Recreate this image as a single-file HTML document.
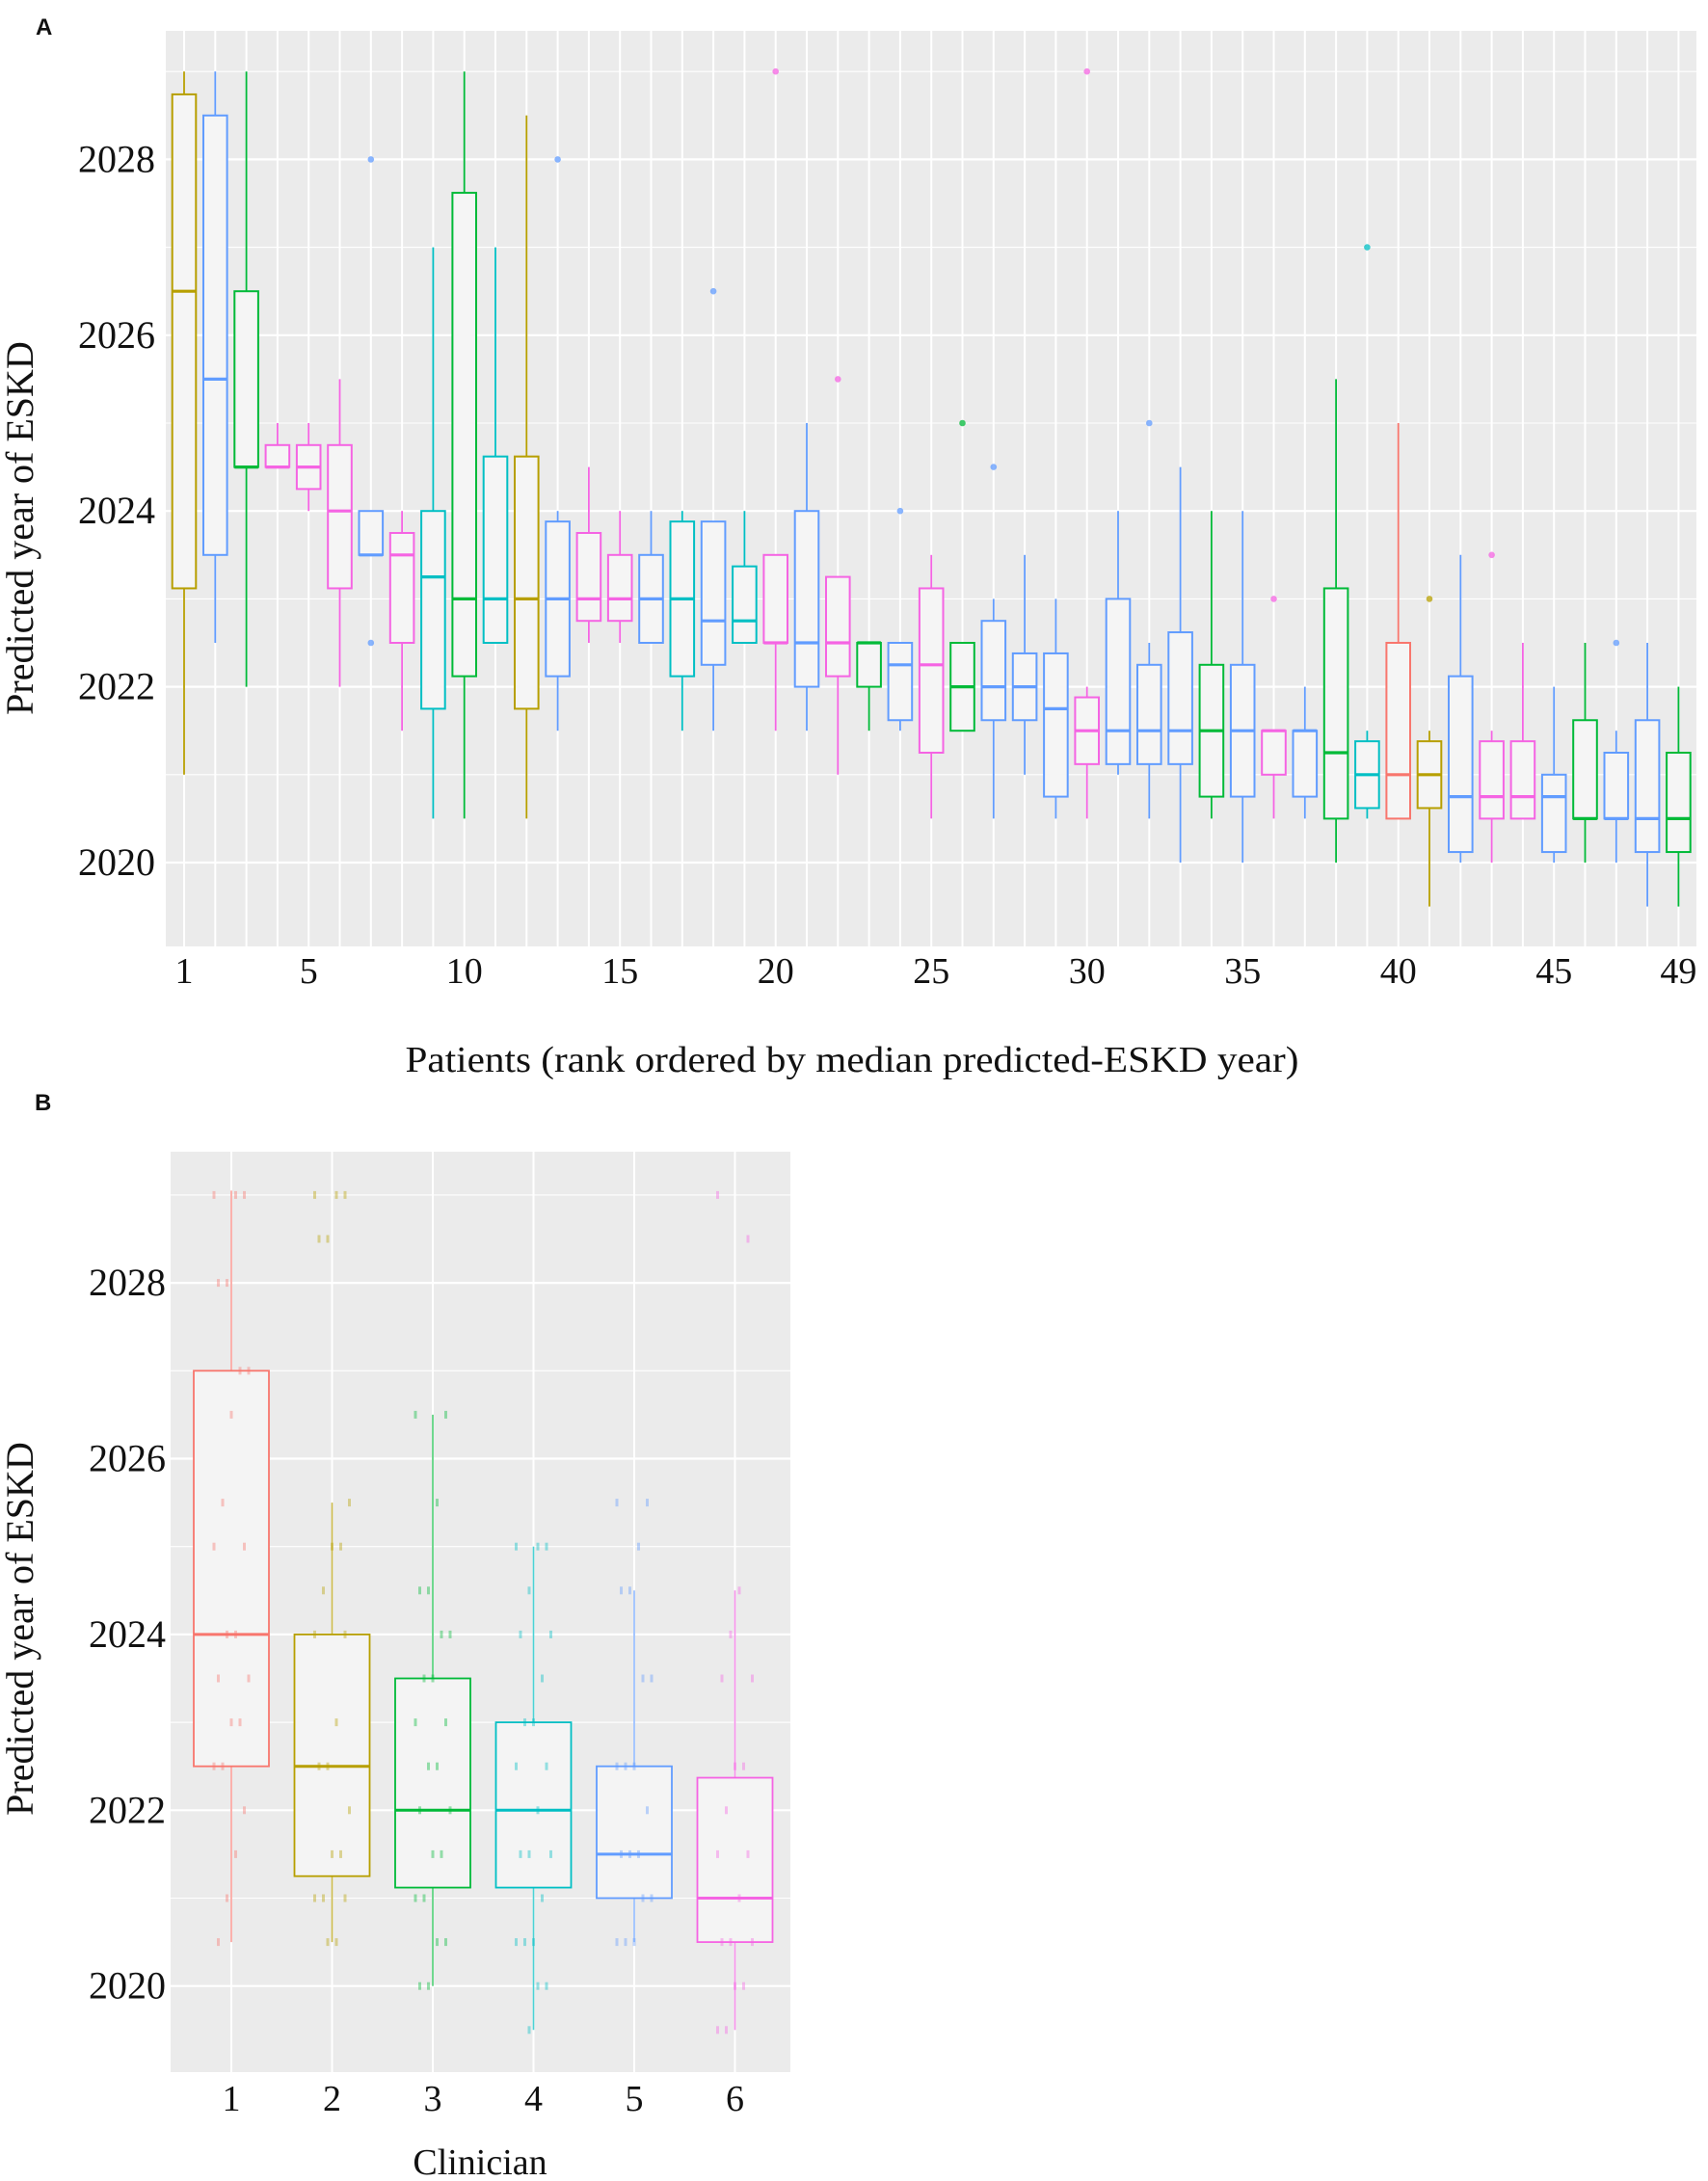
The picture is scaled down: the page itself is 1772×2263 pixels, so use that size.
<!DOCTYPE html>
<html><head><meta charset="utf-8"><style>
html,body{margin:0;padding:0;background:#fff;}
svg{display:block;}
text{font-family:"Liberation Serif",serif;fill:#111;}
</style></head><body>
<svg id="fig" width="1772" height="2263" viewBox="0 0 1772 2263" xmlns="http://www.w3.org/2000/svg">
<g id="pa"></g>
<g id="pb"></g>
<text x="37" y="36" style="font-family:'Liberation Sans',sans-serif;font-weight:bold;font-size:24px">A</text>
<text x="36" y="1152" style="font-family:'Liberation Sans',sans-serif;font-weight:bold;font-size:24px">B</text>
<text x="884" y="1112" text-anchor="middle" font-size="38" textLength="927" lengthAdjust="spacingAndGlyphs">Patients (rank ordered by median predicted-ESKD year)</text>
<text transform="translate(34,548) rotate(-90)" text-anchor="middle" font-size="40">Predicted year of ESKD</text>
<text transform="translate(34,1690) rotate(-90)" text-anchor="middle" font-size="40">Predicted year of ESKD</text>
<text x="498" y="2256" text-anchor="middle" font-size="38">Clinician</text>
</svg>
<script>
// ---------- Panel A data ----------
const patients = [];
for (let i = 1; i <= 49; i++) patients.push(i);
const aLow  = [2021,2022.5,2022,2024.5,2024,2022,2023.5,2021.5,2020.5,2020.5,2022.5,2020.5,2021.5,2022.5,2022.5,2022.5,2021.5,2021.5,2022.5,2021.5,2021.5,2021,2021.5,2021.5,2020.5,2021.5,2020.5,2021,2020.5,2020.5,2021,2020.5,2020,2020.5,2020,2020.5,2020.5,2020,2020.5,2020.5,2019.5,2020,2020,2020.5,2020,2020,2020,2019.5,2019.5];
const aQ1   = [2023.12,2023.5,2024.5,2024.5,2024.25,2023.12,2023.5,2022.5,2021.75,2022.12,2022.5,2021.75,2022.12,2022.75,2022.75,2022.5,2022.12,2022.25,2022.5,2022.5,2022,2022.12,2022,2021.62,2021.25,2021.5,2021.62,2021.62,2020.75,2021.12,2021.12,2021.12,2021.12,2020.75,2020.75,2021,2020.75,2020.5,2020.62,2020.5,2020.62,2020.12,2020.5,2020.5,2020.12,2020.5,2020.5,2020.12,2020.12];
const aMed  = [2026.5,2025.5,2024.5,2024.5,2024.5,2024,2023.5,2023.5,2023.25,2023,2023,2023,2023,2023,2023,2023,2023,2022.75,2022.75,2022.5,2022.5,2022.5,2022.5,2022.25,2022.25,2022,2022,2022,2021.75,2021.5,2021.5,2021.5,2021.5,2021.5,2021.5,2021.5,2021.5,2021.25,2021,2021,2021,2020.75,2020.75,2020.75,2020.75,2020.5,2020.5,2020.5,2020.5];
const aQ3   = [2028.74,2028.5,2026.5,2024.75,2024.75,2024.75,2024,2023.75,2024,2027.62,2024.62,2024.62,2023.88,2023.75,2023.5,2023.5,2023.88,2023.88,2023.37,2023.5,2024,2023.25,2022.5,2022.5,2023.12,2022.5,2022.75,2022.38,2022.38,2021.88,2023,2022.25,2022.62,2022.25,2022.25,2021.5,2021.5,2023.12,2021.38,2022.5,2021.38,2022.12,2021.38,2021.38,2021,2021.62,2021.25,2021.62,2021.25];
const aHigh = [2029,2029,2029,2025,2025,2025.5,2024,2024,2027,2029,2027,2028.5,2024,2024.5,2024,2024,2024,2023.88,2024,2023.5,2025,2023.25,2022.5,2022.5,2023.5,2022.5,2023,2023.5,2023,2022,2024,2022.5,2024.5,2024,2024,2021.5,2022,2025.5,2021.5,2025,2021.5,2023.5,2021.5,2022.5,2022,2022.5,2021.5,2022.5,2022];
const aOutlierPatient = [7,7,13,18,20,22,24,26,27,30,32,36,39,41,43,47];
const aOutlierYear    = [2028,2022.5,2028,2026.5,2029,2025.5,2024,2025,2024.5,2029,2025,2023,2027,2023,2023.5,2022.5];
const aColorKey = ['gold','blue','green','pink','pink','pink','blue','pink','cyan','green','cyan','gold','blue','pink','pink','blue','cyan','blue','cyan','pink','blue','pink','green','blue','pink','green','blue','blue','blue','pink','blue','blue','blue','green','blue','pink','blue','green','cyan','salmon','gold','blue','pink','pink','blue','green','blue','blue','green'];
const aYTicks = [2020,2022,2024,2026,2028];
const aXTicks = [1,5,10,15,20,25,30,35,40,45,49];

// ---------- Panel B data ----------
const clinicians = [1,2,3,4,5,6];
const bLow  = [2020.5,2020.5,2020,2019.5,2020.5,2019.5];
const bQ1   = [2022.5,2021.25,2021.12,2021.12,2021,2020.5];
const bMed  = [2024,2022.5,2022,2022,2021.5,2021];
const bQ3   = [2027,2024,2023.5,2023,2022.5,2022.37];
const bHigh = [2029.05,2025.5,2026.5,2025,2024.5,2024.5];
const bColor = ['salmon','gold','green','cyan','blue','pink'];
const bPoints = [
 [2029,2029,2029,2028,2028,2027,2027,2026.5,2025.5,2025,2025,2024,2024,2023.5,2023.5,2023,2023,2022.5,2022.5,2022,2021.5,2021,2020.5],
 [2029,2029,2029,2028.5,2028.5,2025.5,2025,2025,2024.5,2024,2024,2023,2022.5,2022.5,2022,2021.5,2021.5,2021,2021,2021,2020.5,2020.5],
 [2026.5,2026.5,2025.5,2024.5,2024.5,2024,2024,2023.5,2023.5,2023,2023,2022.5,2022.5,2022,2022,2021.5,2021.5,2021,2021,2020.5,2020.5,2020,2020],
 [2025,2025,2025,2024.5,2024,2024,2023.5,2023,2023,2022.5,2022.5,2022,2021.5,2021.5,2021.5,2021,2020.5,2020.5,2020.5,2020,2020,2019.5],
 [2025.5,2025.5,2025,2024.5,2024.5,2023.5,2023.5,2022.5,2022.5,2022.5,2022,2021.5,2021.5,2021.5,2021,2021,2020.5,2020.5,2020.5],
 [2029,2028.5,2024.5,2024,2023.5,2023.5,2022.5,2022.5,2022,2021.5,2021.5,2021,2020.5,2020.5,2020.5,2020,2020,2019.5,2019.5]
];
const bYTicks = [2020,2022,2024,2026,2028];

const COLORS = {gold:'#B79F00',blue:'#619CFF',green:'#00BA38',pink:'#F564E3',cyan:'#00BFC4',salmon:'#F8766D'};
const NS = 'http://www.w3.org/2000/svg';
function mk(parent, tag, attrs, text){
  const e = document.createElementNS(NS, tag);
  for (const k in attrs) e.setAttribute(k, attrs[k]);
  if (text !== undefined) e.textContent = text;
  parent.appendChild(e);
  return e;
}

// ---------- Panel A ----------
(function(){
  const g = document.getElementById('pa');
  const L=172, R=1760, T=32, B=982;
  const yA = v => 895 - (v-2020)*91.2;
  const xA = p => 191 + (p-1)*32.3;
  const bg = mk(g,'rect',{x:L,y:T,width:R-L,height:B-T,fill:'#EBEBEB'});
  
  
  for (let v=2019; v<=2029; v++){
    const major = v%2===0;
    const ln = mk(g,'line',{x1:L,x2:R,y1:yA(v),y2:yA(v),stroke:'#fff','stroke-width':major?2.2:1.1});
    
    
  }
  patients.forEach(p=>{
    const ln = mk(g,'line',{x1:xA(p),x2:xA(p),y1:T,y2:B,stroke:'#fff','stroke-width':2});
    
    
  });
  const hw = 12.3;
  patients.forEach((p,i)=>{
    const c = COLORS[aColorKey[i]];
    const bx = mk(g,'g',{});
    
    
    const x = xA(p);
    mk(bx,'line',{x1:x,x2:x,y1:yA(aHigh[i]),y2:yA(aQ3[i]),stroke:c,'stroke-width':1.8});
    mk(bx,'line',{x1:x,x2:x,y1:yA(aQ1[i]),y2:yA(aLow[i]),stroke:c,'stroke-width':1.8});
    mk(bx,'rect',{x:x-hw,y:yA(aQ3[i]),width:2*hw,height:Math.max(0.5,yA(aQ1[i])-yA(aQ3[i])),fill:'#F5F5F5',stroke:c,'stroke-width':2});
    mk(bx,'line',{x1:x-hw,x2:x+hw,y1:yA(aMed[i]),y2:yA(aMed[i]),stroke:c,'stroke-width':3.2});
  });
  aOutlierPatient.forEach((p,i)=>{
    const c = COLORS[aColorKey[p-1]];
    const o = mk(g,'circle',{cx:xA(p),cy:yA(aOutlierYear[i]),r:3.3,fill:c,opacity:0.75});
    
    
  });
  aYTicks.forEach(v=>{
    const t = mk(g,'text',{x:161,y:yA(v)+13,'text-anchor':'end','font-size':40},String(v));
    
    
  });
  aXTicks.forEach(v=>{
    const t = mk(g,'text',{x:xA(v),y:1020,'text-anchor':'middle','font-size':38},String(v));
    
    
  });
})();

// ---------- Panel B ----------
(function(){
  const g = document.getElementById('pb');
  const L=177, R=820, T=1195, B=2150;
  const yB = v => 2060.7 - (v-2020)*91.2;
  const xB = c => 240 + (c-1)*104.5;
  const bg = mk(g,'rect',{x:L,y:T,width:R-L,height:B-T,fill:'#EBEBEB'});
  
  
  for (let v=2019; v<=2029; v++){
    const major = v%2===0;
    const ln = mk(g,'line',{x1:L,x2:R,y1:yB(v),y2:yB(v),stroke:'#fff','stroke-width':major?2.2:1.1});
    
    
  }
  clinicians.forEach(c=>{
    const ln = mk(g,'line',{x1:xB(c),x2:xB(c),y1:T,y2:B,stroke:'#fff','stroke-width':2});
    
    
  });
  const hw = 39;
  clinicians.forEach((c,i)=>{
    const col = COLORS[bColor[i]];
    const bx = mk(g,'g',{});
    
    
    const x = xB(c);
    mk(bx,'line',{x1:x,x2:x,y1:yB(bHigh[i]),y2:yB(bQ3[i]),stroke:col,'stroke-width':1.6,opacity:0.7});
    mk(bx,'line',{x1:x,x2:x,y1:yB(bQ1[i]),y2:yB(bLow[i]),stroke:col,'stroke-width':1.6,opacity:0.7});
    mk(bx,'rect',{x:x-hw,y:yB(bQ3[i]),width:2*hw,height:yB(bQ1[i])-yB(bQ3[i]),fill:'#F4F4F4',stroke:col,'stroke-width':1.8});
    mk(bx,'line',{x1:x-hw,x2:x+hw,y1:yB(bMed[i]),y2:yB(bMed[i]),stroke:col,'stroke-width':3});
    bPoints[i].forEach((v,j)=>{
      const off = ((j*7)%9 - 4)*4.5;
      const pt = mk(bx,'rect',{x:x+off-1.5,y:yB(v)-4,width:3,height:8,fill:col,opacity:0.4});
      
      
    });
  });
  bYTicks.forEach(v=>{
    const t = mk(g,'text',{x:172,y:yB(v)+13,'text-anchor':'end','font-size':40},String(v));
    
    
  });
  clinicians.forEach(c=>{
    const t = mk(g,'text',{x:xB(c),y:2190,'text-anchor':'middle','font-size':38},String(c));
    
    
  });
})();
</script>
</body></html>
